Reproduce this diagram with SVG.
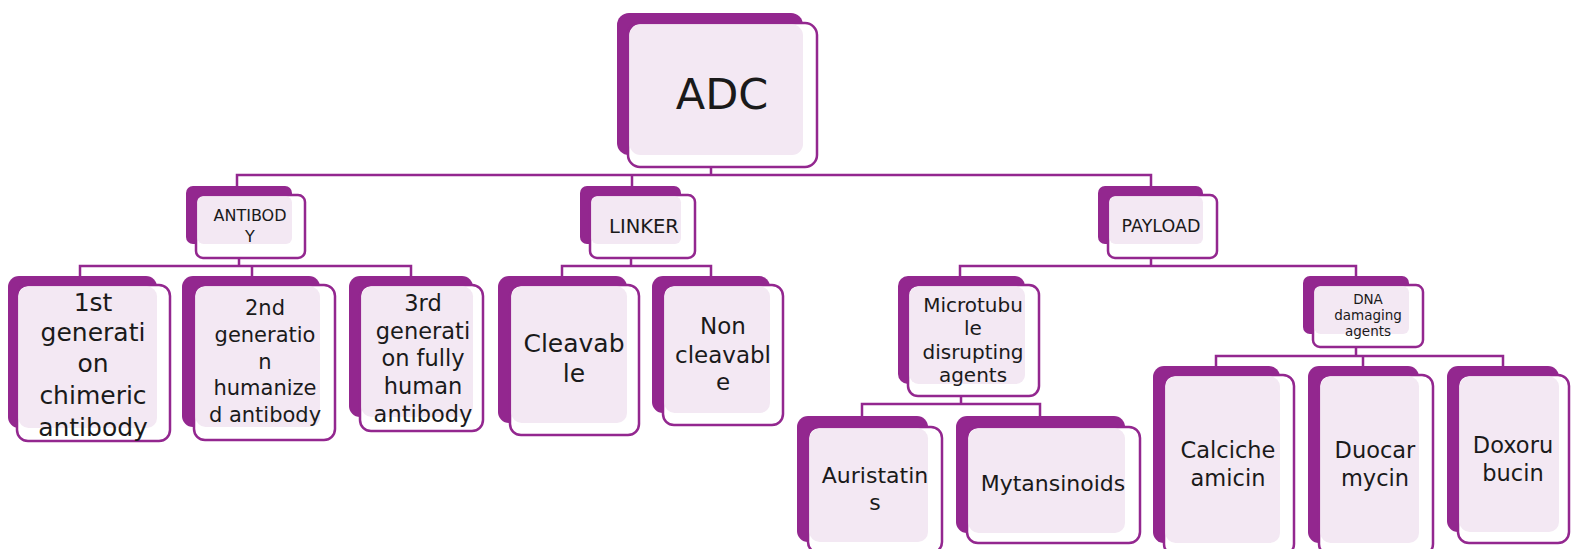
<svg xmlns="http://www.w3.org/2000/svg" width="1571" height="549" viewBox="0 0 1571 549">
<style>
.back{fill:#93278F}
.front{fill:#FFFFFF;stroke:#93278F;stroke-width:2.5}
.pink{fill:#F3E8F3}
.conn{fill:none;stroke:#93278F;stroke-width:2.5}
text{font-family:"DejaVu Sans","Liberation Sans",sans-serif;fill:#1A1A1A;text-anchor:middle;dominant-baseline:central}
</style>
<rect width="1571" height="549" fill="#FFFFFF"/>
<g id="connectors">
<path class="conn" d="M711,167V175M237,186V175H1151V186M632,175V186"/>
<path class="conn" d="M239,258V266M80,276V266H411V276M252,266V276"/>
<path class="conn" d="M631,258V266M562,276V266H711V276"/>
<path class="conn" d="M1151,258V266M960,276V266H1356V276"/>
<path class="conn" d="M961,396V404M862,416V404H1040V416"/>
<path class="conn" d="M1356,347V356M1216,366V356H1503V366M1363,356V366"/>
</g>
<g id="adc">
<rect class="back" x="617" y="13" width="186" height="142" rx="12"/>
<rect class="front" x="628" y="23" width="189" height="144" rx="12"/>
<rect class="pink" x="629.5" y="24.5" width="173.5" height="130.5" rx="11"/>
<text x="722" y="94" font-size="43">ADC</text>
</g>
<g id="antibody">
<rect class="back" x="186" y="186" width="106" height="58" rx="7"/>
<rect class="front" x="196" y="195" width="109" height="63" rx="7"/>
<rect class="pink" x="197.5" y="196.5" width="94.5" height="47.5" rx="6"/>
<text x="250" y="215" font-size="16">ANTIBOD</text>
<text x="250" y="236" font-size="16">Y</text>
</g>
<g id="linker">
<rect class="back" x="580" y="186" width="101" height="58" rx="7"/>
<rect class="front" x="590" y="195" width="105" height="63" rx="7"/>
<rect class="pink" x="591.5" y="196.5" width="89.5" height="47.5" rx="6"/>
<text x="644" y="226" font-size="19.5">LINKER</text>
</g>
<g id="payload">
<rect class="back" x="1098" y="186" width="105" height="58" rx="7"/>
<rect class="front" x="1108" y="195" width="109" height="63" rx="7"/>
<rect class="pink" x="1109.5" y="196.5" width="93.5" height="47.5" rx="6"/>
<text x="1161" y="226" font-size="17.5">PAYLOAD</text>
</g>
<g id="gen1">
<rect class="back" x="8" y="276" width="149" height="152" rx="11"/>
<rect class="front" x="17" y="285" width="153" height="156" rx="11"/>
<rect class="pink" x="18.5" y="286.5" width="138.5" height="141.5" rx="10"/>
<text x="93" y="302" font-size="25">1st</text>
<text x="93" y="332" font-size="25">generati</text>
<text x="93" y="363" font-size="25">on</text>
<text x="93" y="395" font-size="25">chimeric</text>
<text x="93" y="427" font-size="25">antibody</text>
</g>
<g id="gen2">
<rect class="back" x="182" y="276" width="138" height="151" rx="11"/>
<rect class="front" x="194" y="285" width="141" height="155" rx="11"/>
<rect class="pink" x="195.5" y="286.5" width="124.5" height="140.5" rx="10"/>
<text x="265" y="308" font-size="21">2nd</text>
<text x="265" y="335" font-size="21">generatio</text>
<text x="265" y="362" font-size="21">n</text>
<text x="265" y="388" font-size="21">humanize</text>
<text x="265" y="415" font-size="21">d antibody</text>
</g>
<g id="gen3">
<rect class="back" x="349" y="276" width="124" height="141" rx="11"/>
<rect class="front" x="360" y="285" width="123" height="146" rx="11"/>
<rect class="pink" x="361.5" y="286.5" width="111.5" height="130.5" rx="10"/>
<text x="423" y="303" font-size="22.5">3rd</text>
<text x="423" y="331" font-size="22.5">generati</text>
<text x="423" y="358" font-size="22.5">on fully</text>
<text x="423" y="386" font-size="22.5">human</text>
<text x="423" y="414" font-size="22.5">antibody</text>
</g>
<g id="cleavable">
<rect class="back" x="498" y="276" width="129" height="147" rx="11"/>
<rect class="front" x="510" y="285" width="129" height="150" rx="11"/>
<rect class="pink" x="511.5" y="286.5" width="115.5" height="136.5" rx="10"/>
<text x="574" y="343" font-size="25">Cleavab</text>
<text x="574" y="373" font-size="25">le</text>
</g>
<g id="noncleavable">
<rect class="back" x="652" y="276" width="118" height="137" rx="11"/>
<rect class="front" x="663" y="285" width="120" height="140" rx="11"/>
<rect class="pink" x="664.5" y="286.5" width="105.5" height="126.5" rx="10"/>
<text x="723" y="326" font-size="23">Non</text>
<text x="723" y="355" font-size="23">cleavabl</text>
<text x="723" y="382" font-size="23">e</text>
</g>
<g id="microtubule">
<rect class="back" x="898" y="276" width="127" height="108" rx="10"/>
<rect class="front" x="908" y="285" width="131" height="111" rx="10"/>
<rect class="pink" x="909.5" y="286.5" width="115.5" height="97.5" rx="9"/>
<text x="973" y="305" font-size="20">Microtubu</text>
<text x="973" y="328" font-size="20">le</text>
<text x="973" y="352" font-size="20">disrupting</text>
<text x="973" y="375" font-size="20">agents</text>
</g>
<g id="dna">
<rect class="back" x="1303" y="276" width="106" height="58" rx="7"/>
<rect class="front" x="1313" y="285" width="110" height="62" rx="7"/>
<rect class="pink" x="1314.5" y="286.5" width="94.5" height="47.5" rx="6"/>
<text x="1368" y="299" font-size="13.5">DNA</text>
<text x="1368" y="315" font-size="13.5">damaging</text>
<text x="1368" y="331" font-size="13.5">agents</text>
</g>
<g id="auristatins">
<rect class="back" x="797" y="416" width="131" height="126" rx="11"/>
<rect class="front" x="808" y="427" width="134" height="126" rx="11"/>
<rect class="pink" x="809.5" y="428.5" width="118.5" height="113.5" rx="10"/>
<text x="875" y="475" font-size="22">Auristatin</text>
<text x="875" y="502" font-size="22">s</text>
</g>
<g id="mytansinoids">
<rect class="back" x="956" y="416" width="169" height="117" rx="11"/>
<rect class="front" x="967" y="427" width="173" height="116" rx="11"/>
<rect class="pink" x="968.5" y="428.5" width="156.5" height="104.5" rx="10"/>
<text x="1053" y="483" font-size="22">Mytansinoids</text>
</g>
<g id="calicheamicin">
<rect class="back" x="1153" y="366" width="127" height="177" rx="11"/>
<rect class="front" x="1164" y="375" width="130" height="180" rx="11"/>
<rect class="pink" x="1165.5" y="376.5" width="114.5" height="166.5" rx="10"/>
<text x="1228" y="450" font-size="22.5">Calciche</text>
<text x="1228" y="478" font-size="22.5">amicin</text>
</g>
<g id="duocarmycin">
<rect class="back" x="1308" y="366" width="111" height="177" rx="11"/>
<rect class="front" x="1319" y="375" width="114" height="180" rx="11"/>
<rect class="pink" x="1320.5" y="376.5" width="98.5" height="166.5" rx="10"/>
<text x="1375" y="450" font-size="22.5">Duocar</text>
<text x="1375" y="478" font-size="22.5">mycin</text>
</g>
<g id="doxorubicin">
<rect class="back" x="1447" y="366" width="112" height="166" rx="11"/>
<rect class="front" x="1458" y="375" width="111" height="168" rx="11"/>
<rect class="pink" x="1459.5" y="376.5" width="99.5" height="155.5" rx="10"/>
<text x="1513" y="445" font-size="22.5">Doxoru</text>
<text x="1513" y="473" font-size="22.5">bucin</text>
</g>
</svg>
